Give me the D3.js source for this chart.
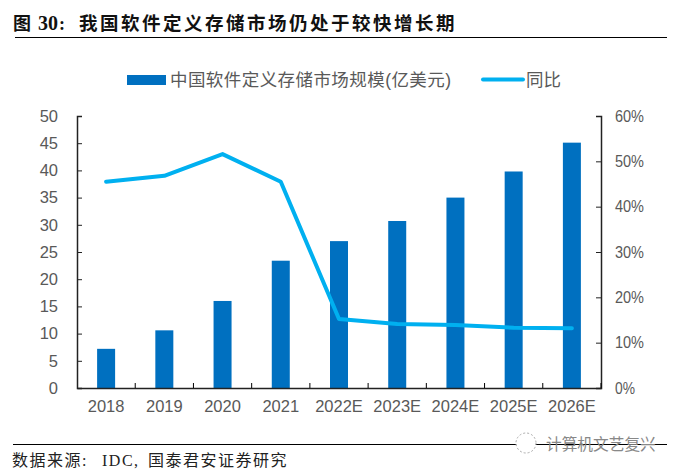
<!DOCTYPE html>
<html>
<head>
<meta charset="utf-8">
<script src="https://cdn.jsdelivr.net/npm/d3@7"></script>
<style>
    html, body { margin: 0; padding: 0; background: #fff; }
    svg { display: block; }
    text { font-family: "Liberation Sans", "Noto Sans CJK SC", sans-serif; }
</style>
</head>
<body>
<div id="chart"></div>
<script>
const categories = ["2018", "2019", "2020", "2021", "2022E", "2023E", "2024E", "2025E", "2026E"];
const marketSize = [7.2, 10.6, 16, 23.4, 27, 30.7, 35, 39.8, 45.1];
const yoyGrowth = [45.5, 46.8, 51.6, 45.5, 15.2, 14.1, 13.9, 13.3, 13.2];
const leftTicks = [0, 5, 10, 15, 20, 25, 30, 35, 40, 45, 50];
const rightTicks = [0, 10, 20, 30, 40, 50, 60];
const barName = "中国软件定义存储市场规模(亿美元)";
const lineName = "同比";
const watermarkText = "计算机文艺复兴";

const width = 677, height = 473;
const margin = { top: 116, right: 76, bottom: 85, left: 77 };
const grey = "#595959";
const serif = '"Liberation Serif", "Noto Sans CJK SC", serif';
const cjk = '"Noto Sans CJK SC", sans-serif';

const svg = d3.select("#chart").append("svg")
    .attr("width", width)
    .attr("height", height);

const xScale = d3.scaleBand()
    .domain(categories)
    .range([margin.left, width - margin.right]);

const yLeft = d3.scaleLinear()
    .domain([0, 50])
    .range([height - margin.bottom, margin.top]);

const yRight = d3.scaleLinear()
    .domain([0, 60])
    .range([height - margin.bottom, margin.top]);

// header and footer are pieced together so the wide spacing of the original can be kept
function addText(str, x, y, size, spacing, family, fill, weight) {
    return svg.append("text")
        .text(str)
        .attr("x", x)
        .attr("y", y)
        .attr("font-size", size)
        .attr("font-weight", weight)
        .attr("fill", fill)
        .style("letter-spacing", spacing + "px")
        .style("font-family", family);
}

//Title and rule
addText("图", 13, 30, 18, 0, serif, "#111", 700);
addText("30", 38, 30, 20, 0, serif, "#111", 700);
addText(":", 59, 30, 18, 0, serif, "#111", 700);
addText("我国软件定义存储市场仍处于较快增长期", 79, 30, 18.5, 2.5, serif, "#111", 700);

svg.append("line")
    .attr("x1", 15).attr("x2", 667)
    .attr("y1", 37.5).attr("y2", 37.5)
    .attr("stroke", "#000")
    .attr("stroke-width", 1);

//Legend
svg.append("rect")
    .attr("x", 127).attr("y", 75)
    .attr("width", 39).attr("height", 10)
    .attr("fill", "#0070c0");

svg.append("text")
    .text(barName)
    .attr("x", 170).attr("y", 86)
    .attr("font-size", 17.5)
    .attr("textLength", 281)
    .attr("fill", grey);

svg.append("line")
    .attr("x1", 483).attr("x2", 523)
    .attr("y1", 79.5).attr("y2", 79.5)
    .attr("stroke", "#00b0f0")
    .attr("stroke-width", 4)
    .attr("stroke-linecap", "round");

svg.append("text")
    .text(lineName)
    .attr("x", 526).attr("y", 86)
    .attr("font-size", 17.5)
    .attr("fill", grey);

//Bars
svg.append("g")
    .selectAll("rect")
    .data(categories)
    .enter()
    .append("rect")
    .attr("x", d => xScale(d) + xScale.bandwidth() / 2 - 9)
    .attr("y", (d, i) => yLeft(marketSize[i]))
    .attr("width", 18)
    .attr("height", (d, i) => yLeft(0) - yLeft(marketSize[i]))
    .attr("fill", "#0070c0");

//Axes
const xAxis = svg.append("g")
    .attr("transform", `translate(0,${yLeft(0)})`)
    .call(d3.axisBottom(xScale).tickSize(0).tickPadding(12));

const leftAxis = svg.append("g")
    .attr("transform", `translate(${margin.left},0)`)
    .call(d3.axisLeft(yLeft).tickValues(leftTicks).tickSizeInner(-5).tickSizeOuter(-5).tickPadding(19));

const rightAxis = svg.append("g")
    .attr("transform", `translate(${width - margin.right},0)`)
    .call(d3.axisRight(yRight).tickValues(rightTicks).tickFormat(d => d + "%")
        .tickSizeInner(-5).tickSizeOuter(-5).tickPadding(14));

//Category separators, ticks point up into the plot
svg.append("g")
    .selectAll("line")
    .data(categories.slice(1).concat("end"))
    .enter()
    .append("line")
    .attr("x1", d => d == "end" ? width - margin.right : xScale(d))
    .attr("x2", d => d == "end" ? width - margin.right : xScale(d))
    .attr("y1", yLeft(0))
    .attr("y2", yLeft(0) - 5)
    .attr("stroke", "#000");

[xAxis, leftAxis, rightAxis].forEach(axis => {
    axis.selectAll("path").attr("stroke", "#222").attr("stroke-width", 1.5);
    axis.selectAll("line").attr("stroke", "#222");
    axis.selectAll("text")
        .attr("font-size", 16.5)
        .attr("fill", grey)
        .style("font-family", '"Liberation Sans", sans-serif');
});

// the percent sign is squeezed in the original
rightAxis.selectAll("text")
    .attr("textLength", d => d == 0 ? 20 : 29)
    .attr("lengthAdjust", "spacingAndGlyphs");

//Line
const line = d3.line()
    .x(d => xScale(d) + xScale.bandwidth() / 2)
    .y((d, i) => yRight(yoyGrowth[i]));

svg.append("path")
    .datum(categories)
    .attr("d", line)
    .attr("fill", "none")
    .attr("stroke", "#00b0f0")
    .attr("stroke-width", 4)
    .attr("stroke-linecap", "round")
    .attr("stroke-linejoin", "round");

//Footer
svg.append("line")
    .attr("x1", 13).attr("x2", 667)
    .attr("y1", 444.5).attr("y2", 444.5)
    .attr("stroke", "#000")
    .attr("stroke-width", 1);

addText("数据来源:", 12, 466, 16, 1.5, serif, "#222", 400);
addText("IDC", 102, 466, 16, 1.5, serif, "#222", 400);
addText(",", 134, 466, 16, 0, serif, "#222", 400);
addText("国泰君安证券研究", 148, 466, 16, 1.5, serif, "#222", 400);

//Watermark
svg.append("circle")
    .attr("cx", 526).attr("cy", 443)
    .attr("r", 10)
    .attr("fill", "#fff")
    .attr("stroke", "#aaa")
    .attr("stroke-dasharray", "2 2");

svg.append("text")
    .text(watermarkText)
    .attr("x", 546)
    .attr("y", 450)
    .attr("font-size", 15.7)
    .attr("fill", "#888")
    .style("font-family", cjk);
</script>
</body>
</html>
